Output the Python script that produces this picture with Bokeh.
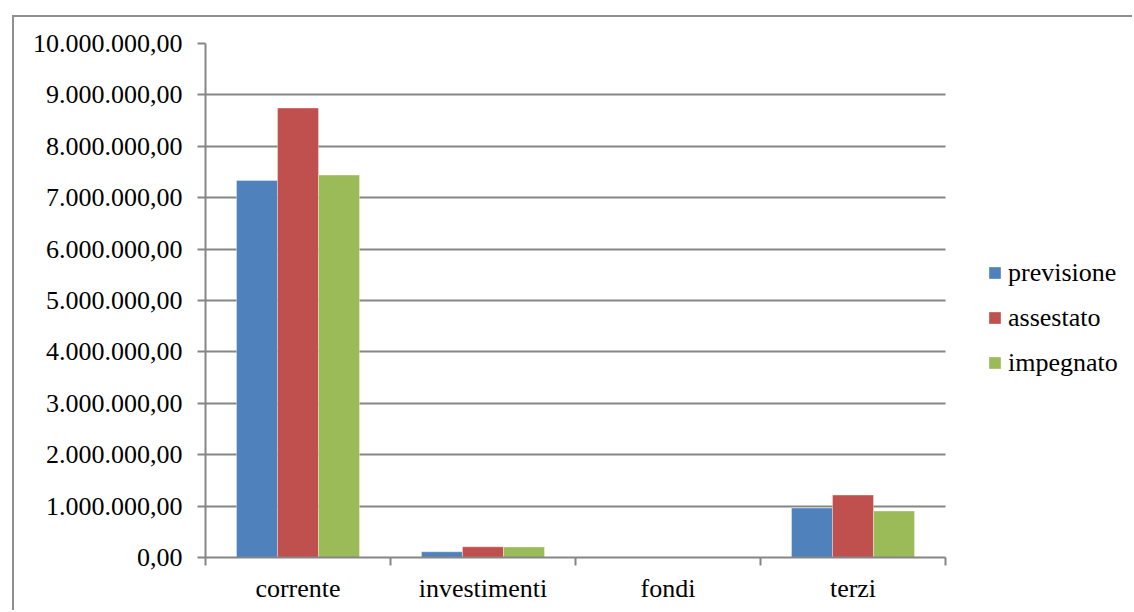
from bokeh.plotting import figure
from bokeh.models import (ColumnDataSource, FixedTicker, Range1d, Legend, LegendItem)
from bokeh.transform import dodge
from bokeh.embed import file_html
from bokeh.resources import INLINE

# Spending by title: forecast, adjusted and committed amounts
categories = ["corrente", "investimenti", "fondi", "terzi"]
previsione = [7335000, 111000, 0, 962000]
assestato = [8744000, 208000, 0, 1215000]
impegnato = [7440000, 205000, 0, 904000]

series_names = ["previsione", "assestato", "impegnato"]
series_colors = ["#4F81BD", "#C0504D", "#9BBB59"]

y_ticks = [0, 1000000, 2000000, 3000000, 4000000, 5000000,
           6000000, 7000000, 8000000, 9000000, 10000000]


def it_money(v):
    s = f"{v:,.2f}"
    return s.replace(",", "_").replace(".", ",").replace("_", ".")


y_tick_labels = [it_money(v) for v in y_ticks]

FONT = "Liberation Serif"
FONT_SIZE = "26px"
GRAY = "#868686"

# canvas geometry: the frame runs to the right edge so the legend can sit beside the bars
FIG_W, FIG_H = 1120, 595
LEFT, TOP, BOTTOM = 191, 26, 55
PLOT_W = 740                      # width taken by the four category slots
FRAME_W = FIG_W - LEFT
n_cat = len(categories)
x_end = n_cat * FRAME_W / PLOT_W

centers = [i + 0.5 for i in range(n_cat)]
source = ColumnDataSource(data=dict(
    x=centers, previsione=previsione, assestato=assestato, impegnato=impegnato))

p = figure(width=FIG_W, height=FIG_H, output_backend="svg", toolbar_location=None,
           x_range=Range1d(0, x_end), y_range=Range1d(0, 10000000),
           min_border_left=LEFT, min_border_right=0, min_border_top=TOP,
           min_border_bottom=BOTTOM, outline_line_color=None,
           margin=(15, 0, 0, 12))
p.styles = {"border-top": "2px solid #8f8f8f", "border-left": "2px solid #8f8f8f"}

bar_w = 0.2216
offsets = [-bar_w, 0.0, bar_w]
renderers = []
for name, color, off in zip(series_names, series_colors, offsets):
    r = p.vbar(x=dodge("x", off, range=p.x_range), top=name, width=bar_w,
               bottom=0, source=source, fill_color=color,
               line_color="white", line_alpha=0.35, line_width=1)
    renderers.append(r)

# y axis
p.yaxis.ticker = FixedTicker(ticks=y_ticks)
p.yaxis.major_label_overrides = {v: lab for v, lab in zip(y_ticks, y_tick_labels)}
p.yaxis.minor_tick_line_color = None
p.yaxis.major_tick_in = 0
p.yaxis.major_tick_out = 8
p.yaxis.major_label_standoff = 15
p.yaxis.axis_line_color = GRAY
p.yaxis.axis_line_width = 2
p.yaxis.major_tick_line_color = GRAY
p.yaxis.major_tick_line_width = 2
p.yaxis.major_label_text_font = FONT
p.yaxis.major_label_text_font_size = FONT_SIZE
p.yaxis.major_label_text_color = "black"

# x axis: labels at centres, ticks at category boundaries
p.xaxis.ticker = FixedTicker(ticks=centers, minor_ticks=list(range(n_cat + 1)))
p.xaxis.major_label_overrides = {c: lab for c, lab in zip(centers, categories)}
p.xaxis.bounds = (0, n_cat)
p.xaxis.major_tick_in = 0
p.xaxis.major_tick_out = 0
p.xaxis.minor_tick_in = 0
p.xaxis.minor_tick_out = 8
p.xaxis.minor_tick_line_color = GRAY
p.xaxis.minor_tick_line_width = 2
p.xaxis.major_label_standoff = 8
p.xaxis.axis_line_color = GRAY
p.xaxis.axis_line_width = 2
p.xaxis.major_label_text_font = FONT
p.xaxis.major_label_text_font_size = FONT_SIZE
p.xaxis.major_label_text_color = "black"

# horizontal grid lines limited to the category slots
p.xgrid.visible = False
ygrid = p.ygrid[0]
if "cross_bounds" in ygrid.properties():
    ygrid.ticker = FixedTicker(ticks=y_ticks)
    ygrid.cross_bounds = (0, n_cat)
    ygrid.grid_line_color = GRAY
    ygrid.grid_line_width = 2
else:
    ygrid.visible = False
    p.segment(x0=[0] * len(y_ticks), x1=[n_cat] * len(y_ticks), y0=y_ticks, y1=y_ticks,
              line_color=GRAY, line_width=2, level="underlay")

legend = Legend(items=[LegendItem(label=n, renderers=[r]) for n, r in zip(series_names, renderers)],
                location=(PLOT_W + 42, 172), orientation="vertical",
                label_text_font=FONT, label_text_font_size=FONT_SIZE,
                label_text_color="black",
                glyph_width=15, glyph_height=15, label_standoff=6,
                label_height=45, spacing=0, padding=0, margin=0,
                border_line_color=None, background_fill_alpha=0)
p.add_layout(legend, "center")

open("out.html", "w").write(file_html(p, INLINE))
